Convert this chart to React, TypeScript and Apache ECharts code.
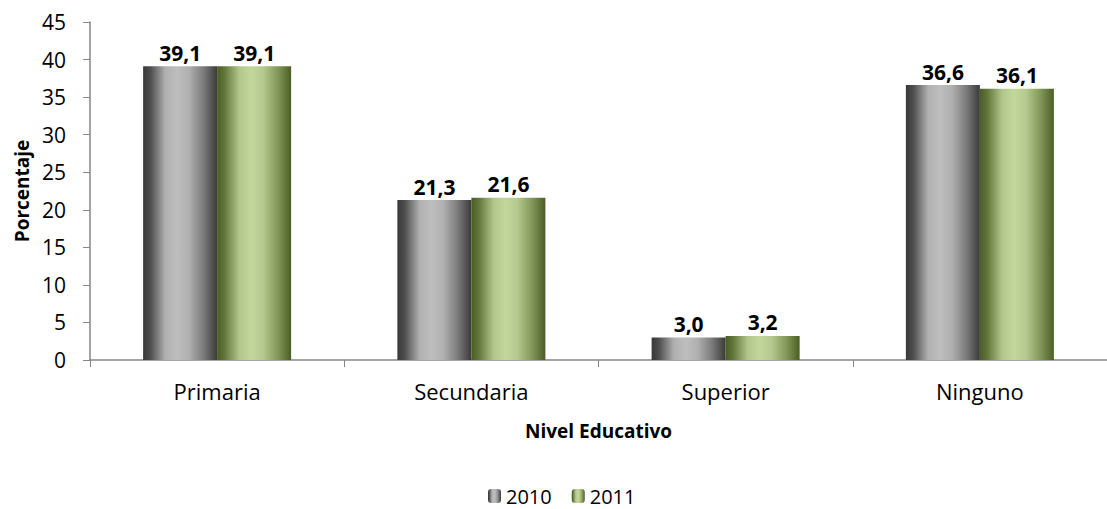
import React, { useEffect, useRef } from "react";
import * as echarts from "echarts";

const categories = ["Primaria", "Secundaria", "Superior", "Ninguno"];
const values2010 = [39.1, 21.3, 3.0, 36.6];
const values2011 = [39.1, 21.6, 3.2, 36.1];
const yTicks = [0, 5, 10, 15, 20, 25, 30, 35, 40, 45];
const seriesNames = ["2010", "2011"];

const FONT = "Open Sans";

const grayGrad = new echarts.graphic.LinearGradient(0, 0, 1, 0, [
  { offset: 0, color: "#383838" },
  { offset: 0.1, color: "#4e4e4e" },
  { offset: 0.3, color: "#b0b0b0" },
  { offset: 0.46, color: "#bebebe" },
  { offset: 0.62, color: "#b0b0b0" },
  { offset: 0.82, color: "#7a7a7a" },
  { offset: 1, color: "#3a3a3a" },
]);
const greenGrad = new echarts.graphic.LinearGradient(0, 0, 1, 0, [
  { offset: 0, color: "#4a5e24" },
  { offset: 0.1, color: "#62753a" },
  { offset: 0.3, color: "#b2c58a" },
  { offset: 0.46, color: "#c3d69b" },
  { offset: 0.62, color: "#b6c98e" },
  { offset: 0.82, color: "#84975a" },
  { offset: 1, color: "#4a5e24" },
]);

export default function App() {
  const ref = useRef<HTMLDivElement>(null);
  useEffect(() => {
    if (!ref.current) return;
    const chart = echarts.init(ref.current, null, { renderer: "svg" });
    const fmt = (p: any) => Number(p.value).toFixed(1).replace(".", ",");
    const label = {
      show: true,
      position: "top",
      distance: 3,
      fontFamily: FONT,
      fontWeight: "bold",
      fontSize: 21,
      color: "#000",
      formatter: fmt,
    };
    chart.setOption({
      animation: false,
      textStyle: { fontFamily: FONT },
      grid: { left: 90, top: 22, height: 338, width: 1030 },
      legend: {
        data: seriesNames,
        left: 483,
        top: 481,
        itemWidth: 13,
        itemHeight: 14,
        itemGap: 20,
        textStyle: { fontFamily: FONT, fontSize: 20, color: "#000" },
      },
      xAxis: {
        type: "category",
        data: categories,
        name: "Nivel Educativo",
        nameLocation: "middle",
        nameGap: 61,
        nameTextStyle: { fontFamily: FONT, fontWeight: "bold", fontSize: 19, color: "#000" },
        axisLine: { lineStyle: { color: "#868686", width: 1.5 } },
        axisTick: { show: true, length: 7, lineStyle: { color: "#868686" } },
        axisLabel: { margin: 20, fontFamily: FONT, fontSize: 22, color: "#000" },
      },
      yAxis: {
        type: "value",
        min: yTicks[0],
        max: yTicks[yTicks.length - 1],
        interval: 5,
        name: "Porcentaje",
        nameLocation: "middle",
        nameGap: 58,
        nameTextStyle: { fontFamily: FONT, fontWeight: "bold", fontSize: 19, color: "#000" },
        axisLine: { show: true, lineStyle: { color: "#868686", width: 1.5 } },
        axisTick: { show: true, length: 7, lineStyle: { color: "#868686" } },
        splitLine: { show: false },
        axisLabel: { margin: 24, fontFamily: FONT, fontSize: 21, color: "#000" },
      },
      series: [
        {
          name: seriesNames[0],
          type: "bar",
          data: values2010,
          barWidth: 74,
          barGap: "0%",
          itemStyle: { color: grayGrad },
          label,
        },
        {
          name: seriesNames[1],
          type: "bar",
          data: values2011,
          barWidth: 74,
          barGap: "0%",
          itemStyle: { color: greenGrad },
          label,
        },
      ],
    });
    return () => chart.dispose();
  }, []);
  return (
    <div
      ref={ref}
      style={{ position: "absolute", left: 0, top: 0, width: 1107, height: 509, background: "#fff" }}
    />
  );
}
